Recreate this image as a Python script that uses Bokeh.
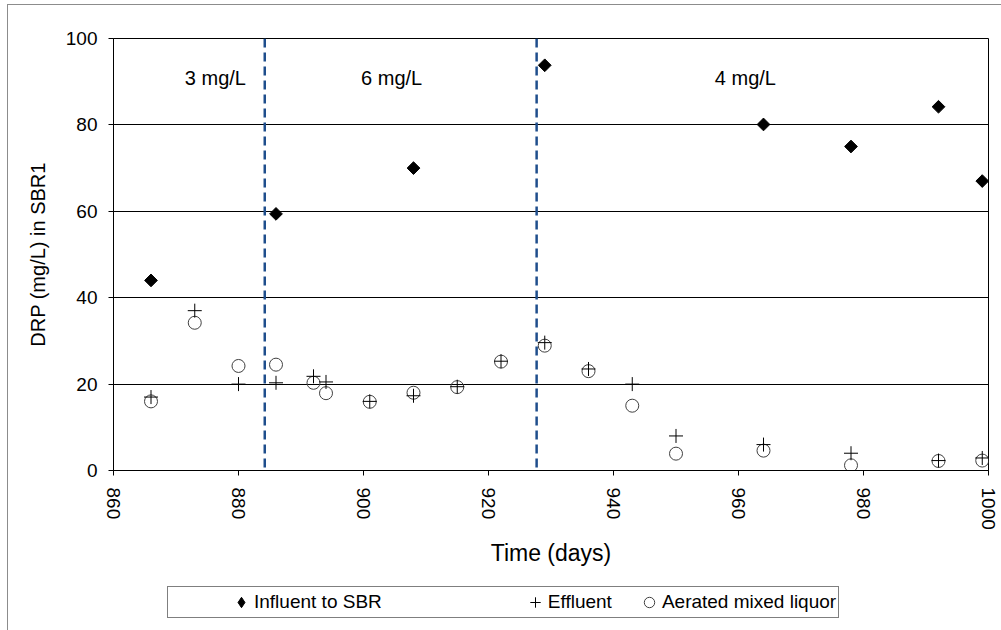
import numpy as np
from bokeh.plotting import figure
from bokeh.layouts import column
from bokeh.models import (Span, Label, Legend, LegendItem, InlineStyleSheet,
                          FixedTicker, ColumnDataSource)
from bokeh.embed import file_html
from bokeh.resources import INLINE

# ---- data ----
days_influent = [866, 886, 908, 929, 964, 978, 992, 999]
influent = [44.0, 59.4, 70.0, 93.8, 80.1, 75.0, 84.2, 67.0]

days_effluent = [866, 873, 880, 886, 892, 894, 901, 908, 915, 922, 929, 936, 943, 950, 964, 978, 992, 999]
effluent = [17.0, 37.0, 20.0, 20.3, 21.8, 20.5, 16.0, 17.3, 19.4, 25.3, 29.6, 23.5, 20.0, 8.0, 6.0, 4.0, 2.3, 2.9]

days_mixed = [866, 873, 880, 886, 892, 894, 901, 908, 915, 922, 929, 936, 943, 950, 964, 978, 992, 999]
mixed = [16.0, 34.2, 24.2, 24.5, 20.3, 17.9, 15.9, 18.0, 19.3, 25.2, 28.9, 23.0, 15.0, 3.9, 4.6, 1.2, 2.2, 2.3]

phase_changes = [884.2, 927.7]
phase_labels = ["3 mg/L", "6 mg/L", "4 mg/L"]
phase_label_x = [876.3, 904.5, 961.1]

x_ticks = [860, 880, 900, 920, 940, 960, 980, 1000]
y_ticks = [0, 20, 40, 60, 80, 100]

FONT = "Liberation Sans"

p = figure(width=1001, height=578, x_range=(860, 1000), y_range=(0, 100),
           output_backend="svg", toolbar_location=None,
           min_border_left=113, min_border_right=13,
           min_border_top=38, min_border_bottom=108)

p.background_fill_color = "white"
p.border_fill_color = "white"
p.outline_line_color = "black"
p.outline_line_width = 1

# grid
p.xgrid.grid_line_color = None
p.ygrid.grid_line_color = "black"
p.ygrid.grid_line_width = 1
p.ygrid.ticker = FixedTicker(ticks=y_ticks)

# axes
for ax in (p.xaxis[0], p.yaxis[0]):
    ax.axis_line_color = "black"
    ax.major_tick_line_color = "black"
    ax.major_tick_in = 0
    ax.major_tick_out = 5
    ax.minor_tick_line_color = None
    ax.major_label_text_font = FONT
    ax.major_label_text_font_size = "19px"
    ax.major_label_text_color = "black"
    ax.axis_label_text_font = FONT
    ax.axis_label_text_font_style = "normal"
    ax.axis_label_text_color = "black"

p.xaxis.ticker = FixedTicker(ticks=x_ticks)
p.yaxis.ticker = FixedTicker(ticks=y_ticks)
p.xaxis.major_label_orientation = "vertical"
p.xaxis.major_label_standoff = 12
p.yaxis.major_label_standoff = 11
p.xaxis.axis_label = "Time (days)"
p.xaxis.axis_label_text_font_size = "23px"
p.xaxis.axis_label_standoff = 7
p.yaxis.axis_label = "DRP (mg/L) in SBR1"
p.yaxis.axis_label_text_font_size = "20px"
p.yaxis.axis_label_standoff = 14

# phase separators
for xc in phase_changes:
    p.add_layout(Span(location=xc, dimension="height", line_color="#1F4E8C",
                      line_width=2.5, line_dash="9 5"))

for lx, txt in zip(phase_label_x, phase_labels):
    p.add_layout(Label(x=lx, y=90.8, text=txt, text_align="center",
                       text_baseline="middle", text_font=FONT,
                       text_font_size="20px", text_color="black"))

# data
src_in = ColumnDataSource(dict(x=days_influent, y=influent))
src_ef = ColumnDataSource(dict(x=days_effluent, y=effluent))
src_mx = ColumnDataSource(dict(x=days_mixed, y=mixed))

p.scatter("x", "y", source=src_mx, marker="circle", size=13,
          fill_alpha=0, line_color="#404040", line_width=1)
p.scatter("x", "y", source=src_ef, marker="cross", size=14,
          line_color="black", line_width=1)
p.scatter("x", "y", source=src_in, marker="square", angle=np.pi / 4, size=9,
          fill_color="black", line_color="black")

# ---- legend strip (separate figure below the chart) ----
q = figure(width=1001, height=52, x_range=(0, 1), y_range=(0, 1),
           output_backend="svg", toolbar_location=None,
           x_axis_location=None, y_axis_location=None, min_border=0)
q.outline_line_color = None
q.background_fill_color = "white"
q.border_fill_color = "white"
q.grid.visible = False

# legend renderers share the data but lie outside this strip's ranges
leg_in = q.scatter("x", "y", source=src_in, marker="diamond",
                   fill_color="black", line_color="black")
leg_ef = q.scatter("x", "y", source=src_ef, marker="cross",
                   line_color="black", line_width=1)
leg_mx = q.scatter("x", "y", source=src_mx, marker="circle",
                   fill_alpha=0, line_color="#404040")
leg_blank = q.scatter("x", "y", source=src_mx, marker="circle",
                      fill_alpha=0, line_alpha=0)

items = [
    LegendItem(label=" ", renderers=[leg_blank]),
    LegendItem(label="Influent to SBR", renderers=[leg_in]),
    LegendItem(label=" ", renderers=[leg_blank]),
    LegendItem(label=" ", renderers=[leg_blank]),
    LegendItem(label="Effluent", renderers=[leg_ef]),
    LegendItem(label="Aerated mixed liquor", renderers=[leg_mx]),
]
legend = Legend(items=items, location=(54, 12), orientation="horizontal",
                border_line_color="black", border_line_width=1,
                background_fill_color="white", background_fill_alpha=1,
                padding=2, margin=0, spacing=24, label_width=8,
                glyph_width=26, glyph_height=26, label_standoff=0,
                label_text_font=FONT, label_text_font_size="19px",
                label_text_color="black")
q.add_layout(legend)

layout = column(p, q, spacing=0)
layout.stylesheets = [InlineStyleSheet(css=(
    ":host::after { content: ''; position: absolute; left: 7px; top: 4px; "
    "right: -4px; bottom: -4px; border: 1px solid #8c8c8c; "
    "pointer-events: none; z-index: 1000; }"))]

open("out.html", "w").write(file_html(layout, INLINE))
